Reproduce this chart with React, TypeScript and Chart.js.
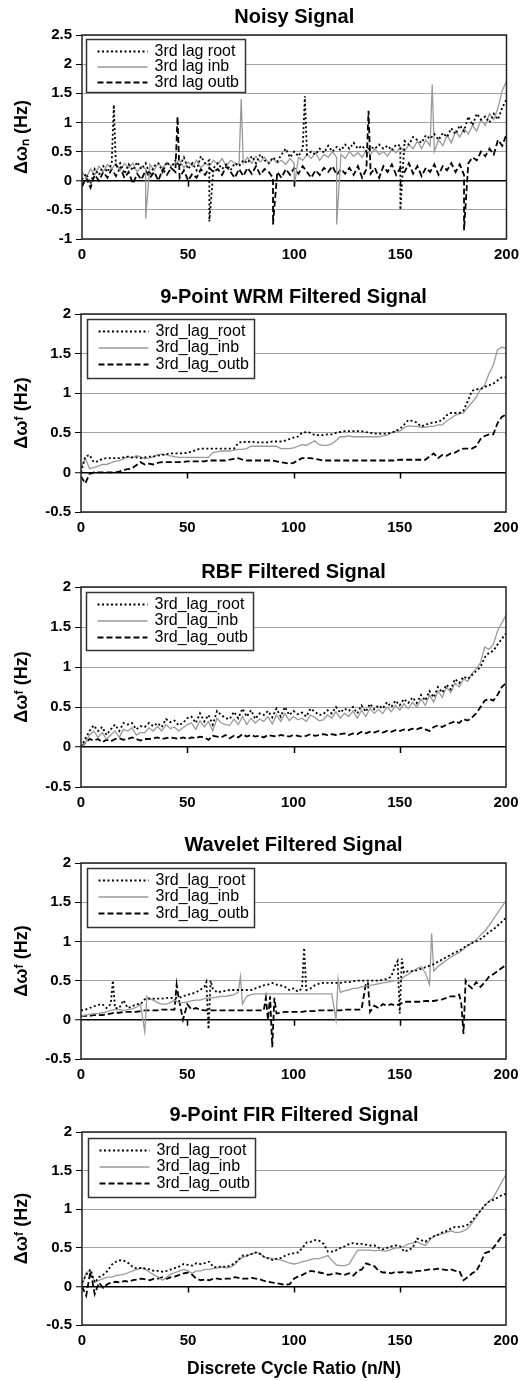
import React, { useEffect, useRef } from "react";
import { Chart, registerables } from "chart.js";

Chart.register(...registerables);
Chart.defaults.font.family = '"Liberation Sans", Arial, Helvetica, sans-serif';
Chart.defaults.color = "#000";

// ---------------- DATA ----------------
const CYCLES = [
  0, 2, 4, 6, 8, 10, 12, 14, 16, 18,
  20, 22, 24, 26, 28, 30, 32, 34, 36, 38,
  40, 42, 44, 46, 48, 50, 52, 54, 56, 58,
  60, 62, 64, 66, 68, 70, 72, 74, 76, 78,
  80, 82, 84, 86, 88, 90, 92, 94, 96, 98,
  100, 102, 104, 106, 108, 110, 112, 114, 116, 118,
  120, 122, 124, 126, 128, 130, 132, 134, 136, 138,
  140, 142, 144, 146, 148, 150, 152, 154, 156, 158,
  160, 162, 164, 166, 168, 170, 172, 174, 176, 178,
  180, 182, 184, 186, 188, 190, 192, 194, 196, 198,
  200,
];

const X_TICK_STEP = 50;
const Y_TICK_STEP = 0.5;

const NAMES_NOISY = ["3rd lag root", "3rd lag inb", "3rd lag outb"];
const NAMES_FILTERED = ["3rd_lag_root", "3rd_lag_inb", "3rd_lag_outb"];

const TITLES = [
  "Noisy Signal",
  "9-Point WRM Filtered Signal",
  "RBF Filtered Signal",
  "Wavelet Filtered Signal",
  "9-Point FIR Filtered Signal",
];
const Y_LABEL_NOISY = "Δωₙ (Hz)";
const Y_LABEL_FILTERED = "Δωᶠ (Hz)";
const X_LABEL = "Discrete Cycle Ratio (n/N)";

// Noisy signal
const noisyRoot = [
  0.02, 0.12, -0.05, 0.2, 0.1, 0.25, 0.15, 0.3, 0.22, 0.3,
  0.12, 0.28, 0.18, 0.32, 0.2, 0.3, 0.1, 0.25, 0.3, 0.15,
  0.32, 0.22, 0.35, 0.25, 0.4, 0.2, 0.3, 0.18, 0.42, 0.3,
  0.35, 0.22, 0.3, 0.2, 0.28, 0.18, 0.3, 0.25, 0.35, 0.3,
  0.42, 0.3, 0.45, 0.35, 0.3, 0.4, 0.33, 0.45, 0.55, 0.4,
  0.5, 0.42, 0.55, 0.45, 0.5, 0.45, 0.55, 0.48, 0.6, 0.5,
  0.58, 0.52, 0.62, 0.55, 0.65, 0.55, 0.6, 0.5, 0.58, 0.55,
  0.62, 0.55, 0.6, 0.52, 0.62, 0.6, 0.68, 0.62, 0.75, 0.7,
  0.65, 0.78, 0.72, 0.8, 0.7, 0.82, 0.75, 0.9, 0.8, 0.95,
  0.85, 1.1, 0.95, 1.15, 1.05, 1.1, 1.0, 1.15, 1.05, 1.25,
  1.4,
];
const noisyRootSpikes = [[15, 1.3], [60, -0.7], [105, 1.45], [150, -0.5]];
const noisyInb = [
  0.15, 0.05, 0.2, 0.1, 0.25, 0.15, 0.28, 0.2, 0.3, 0.18,
  0.3, 0.22, 0.3, 0.15, 0.25, 0.2, 0.28, 0.18, 0.3, 0.22,
  0.32, 0.25, 0.3, 0.35, 0.22, 0.32, 0.25, 0.35, 0.22, 0.3,
  0.25, 0.35, 0.28, 0.38, 0.25, 0.35, 0.3, 0.28, 0.3, 0.4,
  0.3, 0.42, 0.32, 0.4, 0.3, 0.38, 0.3, 0.35, 0.28, 0.38,
  0.3, 0.4, 0.35, 0.45, 0.38, 0.48, 0.35, 0.45, 0.4, 0.5,
  0.4, 0.45, 0.38, 0.5, 0.42, 0.48, 0.4, 0.52, 0.45, 0.55,
  0.45, 0.5, 0.42, 0.55, 0.48, 0.58, 0.5, 0.62, 0.55, 0.68,
  0.55, 0.7, 0.6, 0.5, 0.7, 0.6, 0.78, 0.65, 0.85, 0.75,
  0.9, 0.8, 0.95, 0.85, 1.05, 0.95, 1.15, 1.05, 1.25, 1.55,
  1.7,
];
const noisyInbSpikes = [[30, -0.65], [75, 1.4], [100, -0.1], [120, -0.75], [165, 1.65]];
const noisyOutb = [
  -0.1, 0.05, -0.12, 0.1, 0.0, 0.15, 0.05, 0.2, 0.08, 0.22,
  0.05, 0.15, -0.05, 0.12, 0.02, 0.18, 0.05, 0.15, 0.0, 0.2,
  0.1, 0.22, 0.15, 0.05, 0.18, 0.0, 0.12, 0.05, 0.2, 0.1,
  0.22, 0.15, 0.2, 0.1, 0.25, 0.15, 0.05, 0.2, 0.08, 0.22,
  0.12, 0.25, 0.1, 0.2, 0.15, 0.05, 0.15, 0.05, 0.2, 0.1,
  0.22, 0.12, 0.25, 0.15, 0.05, 0.18, 0.1, 0.22, 0.15, 0.25,
  0.1, 0.2, 0.12, 0.22, 0.1, 0.25, 0.05, 0.2, 0.12, 0.22,
  0.05, 0.25, 0.15, 0.28, 0.1, 0.22, 0.15, 0.3, 0.12, 0.25,
  0.08, 0.22, 0.15, 0.28, 0.1, 0.25, 0.18, 0.3, 0.15, 0.28,
  0.1, 0.3, 0.4, 0.35, 0.5, 0.42, 0.55, 0.45, 0.7, 0.6,
  0.8,
];
const noisyOutbSpikes = [[45, 1.1], [90, -0.75], [135, 1.2], [180, -0.85]];

// 9-point WRM
const wrmRoot = [
  0.0, 0.2, 0.22, 0.13, 0.14, 0.17, 0.18, 0.18, 0.18, 0.18,
  0.19, 0.2, 0.19, 0.19, 0.18, 0.19, 0.2, 0.2, 0.21, 0.22,
  0.23, 0.24, 0.24, 0.24, 0.24, 0.25, 0.26, 0.28, 0.3, 0.3,
  0.3, 0.3, 0.3, 0.3, 0.3, 0.3, 0.3, 0.37, 0.39, 0.38,
  0.39, 0.38, 0.38, 0.38, 0.38, 0.39, 0.39, 0.39, 0.4, 0.42,
  0.44, 0.45, 0.5, 0.51, 0.5, 0.47, 0.47, 0.47, 0.48, 0.48,
  0.5, 0.51, 0.52, 0.52, 0.52, 0.52, 0.52, 0.51, 0.5, 0.49,
  0.49, 0.49, 0.49, 0.5, 0.52, 0.55, 0.6, 0.66, 0.65, 0.63,
  0.58, 0.6, 0.62, 0.63, 0.64, 0.66, 0.72, 0.75, 0.75, 0.75,
  0.78, 0.9, 1.03, 1.05, 1.05, 1.08, 1.1, 1.12, 1.16, 1.2,
  1.2,
];
const wrmInb = [
  0.05, 0.18, 0.05, 0.06, 0.08, 0.1, 0.1, 0.12, 0.14, 0.15,
  0.17, 0.2, 0.18, 0.21, 0.2, 0.17, 0.18, 0.2, 0.22, 0.23,
  0.22, 0.21, 0.2, 0.19, 0.19, 0.19, 0.19, 0.19, 0.19, 0.19,
  0.19, 0.25, 0.26, 0.27, 0.27, 0.27, 0.28, 0.29, 0.29, 0.3,
  0.33, 0.33, 0.33, 0.33, 0.33, 0.33, 0.33, 0.3, 0.3, 0.3,
  0.31, 0.33, 0.35, 0.34, 0.37, 0.4, 0.35, 0.34, 0.34, 0.36,
  0.4, 0.45, 0.45, 0.46, 0.45, 0.45, 0.45, 0.45, 0.45, 0.45,
  0.45, 0.46, 0.47, 0.5, 0.52, 0.52, 0.56, 0.59, 0.58, 0.58,
  0.57, 0.57, 0.58, 0.58, 0.6, 0.6, 0.65, 0.68, 0.72, 0.74,
  0.75, 0.82, 0.88, 0.95, 1.05, 1.1, 1.25, 1.35, 1.55, 1.58,
  1.57,
];
const wrmOutb = [
  -0.05, -0.14, -0.02, 0.0, 0.0, 0.0, 0.0, 0.0, 0.0, 0.01,
  0.03, 0.04, 0.05, 0.09, 0.13, 0.1, 0.11, 0.1, 0.12, 0.13,
  0.13, 0.13, 0.13, 0.13, 0.13, 0.14, 0.14, 0.14, 0.14, 0.14,
  0.15, 0.15, 0.15, 0.15, 0.15, 0.16, 0.17, 0.18, 0.16, 0.15,
  0.15, 0.15, 0.15, 0.15, 0.15, 0.15, 0.14, 0.13, 0.12, 0.11,
  0.12, 0.15, 0.18, 0.18, 0.18, 0.17, 0.16, 0.15, 0.15, 0.15,
  0.15, 0.15, 0.15, 0.15, 0.15, 0.15, 0.15, 0.15, 0.15, 0.15,
  0.15, 0.15, 0.15, 0.15, 0.15, 0.16, 0.16, 0.16, 0.16, 0.16,
  0.16, 0.16, 0.2, 0.24, 0.18, 0.22, 0.21, 0.24, 0.25, 0.28,
  0.3, 0.3, 0.3, 0.33, 0.42, 0.46, 0.48, 0.48, 0.62, 0.7,
  0.73,
];

// RBF
const rbfRoot = [
  0.0, 0.1, 0.2, 0.27, 0.2, 0.25, 0.15, 0.22, 0.28, 0.2,
  0.3, 0.28, 0.3, 0.22, 0.26, 0.25, 0.3, 0.26, 0.3, 0.25,
  0.35, 0.31, 0.33, 0.27, 0.3, 0.36, 0.38, 0.3, 0.42, 0.32,
  0.4, 0.28, 0.45, 0.4, 0.36, 0.35, 0.44, 0.36, 0.48, 0.38,
  0.46, 0.35, 0.42, 0.4, 0.45, 0.37, 0.48, 0.38, 0.5, 0.4,
  0.45, 0.41, 0.43, 0.38, 0.48, 0.44, 0.4, 0.41, 0.46, 0.42,
  0.5, 0.43, 0.48, 0.45, 0.5, 0.42, 0.52, 0.44, 0.54, 0.47,
  0.52, 0.48, 0.56, 0.5, 0.58, 0.52, 0.6, 0.55, 0.62, 0.55,
  0.65, 0.58, 0.7, 0.62, 0.75, 0.68, 0.78, 0.72, 0.85, 0.8,
  0.88, 0.85, 0.9, 0.95, 1.0, 1.12, 1.18, 1.2, 1.28, 1.35,
  1.42,
];
const rbfInb = [
  0.0, 0.05, 0.15, 0.2, 0.12, 0.18, 0.1, 0.15, 0.2, 0.12,
  0.22, 0.2, 0.24, 0.15, 0.18, 0.18, 0.24, 0.2, 0.26, 0.2,
  0.28, 0.23, 0.25, 0.2, 0.24, 0.28, 0.3, 0.22, 0.33, 0.25,
  0.32, 0.2, 0.36, 0.3, 0.28, 0.27, 0.35, 0.28, 0.38, 0.28,
  0.36, 0.3, 0.35, 0.32, 0.38, 0.29, 0.4, 0.32, 0.42, 0.33,
  0.38, 0.34, 0.36, 0.32, 0.4, 0.37, 0.33, 0.34, 0.4, 0.36,
  0.44, 0.36, 0.42, 0.38, 0.45, 0.36, 0.46, 0.38, 0.48, 0.42,
  0.47, 0.42, 0.5, 0.44, 0.52, 0.46, 0.54, 0.48, 0.56, 0.5,
  0.6, 0.52, 0.65, 0.56, 0.7, 0.62, 0.75, 0.68, 0.8, 0.75,
  0.85, 0.82, 0.92, 0.98, 1.05, 1.25, 1.22, 1.28, 1.45, 1.55,
  1.65,
];
const rbfOutb = [
  0.0, 0.05, 0.1, 0.08, 0.1, 0.06, 0.09, 0.07, 0.1, 0.11,
  0.09, 0.1, 0.12, 0.1, 0.08, 0.1, 0.1, 0.11, 0.12, 0.1,
  0.11, 0.12, 0.11, 0.1, 0.12, 0.1, 0.12, 0.11, 0.13, 0.12,
  0.09, 0.14, 0.13, 0.12, 0.15, 0.11, 0.14, 0.12, 0.16, 0.13,
  0.15, 0.13, 0.14, 0.12, 0.15, 0.14, 0.13, 0.15, 0.14, 0.13,
  0.15, 0.14, 0.13, 0.14, 0.16, 0.14, 0.15, 0.16, 0.15, 0.16,
  0.15, 0.16, 0.17, 0.15, 0.17, 0.16, 0.19, 0.17, 0.19, 0.18,
  0.2, 0.18, 0.2, 0.19, 0.21, 0.2, 0.22, 0.21, 0.23, 0.22,
  0.24, 0.22, 0.2, 0.25, 0.27, 0.25, 0.28, 0.3, 0.32, 0.3,
  0.35, 0.33, 0.37, 0.42, 0.5, 0.58, 0.6, 0.58, 0.65, 0.75,
  0.8,
];

// Wavelet
const wavRoot = [
  0.12, 0.13, 0.15, 0.17, 0.19, 0.2, 0.15, 0.2, 0.15, 0.15,
  0.25, 0.15, 0.17, 0.2, 0.2, 0.26, 0.27, 0.27, 0.27, 0.27,
  0.28, 0.28, 0.28, 0.28, 0.3, 0.32, 0.33, 0.35, 0.38, 0.42,
  -0.12, 0.4, 0.35, 0.36, 0.37, 0.38, 0.38, 0.38, 0.38, 0.38,
  0.38, 0.4, 0.42, 0.44, 0.45, 0.47, 0.45, 0.44, 0.42, 0.38,
  0.4, 0.36, 0.4, 0.38, 0.4, 0.44, 0.46, 0.47, 0.47, 0.47,
  0.47, 0.47, 0.48, 0.48, 0.49, 0.5, 0.5, 0.5, 0.5, 0.5,
  0.5, 0.51, 0.52, 0.55, 0.7, 0.08, 0.6, 0.62, 0.62, 0.63,
  0.65, 0.67, 0.69, 0.71, 0.74, 0.77, 0.8, 0.83, 0.86, 0.88,
  0.92, 0.95, 0.98, 1.0, 1.03, 1.07, 1.12, 1.15, 1.2, 1.25,
  1.3,
];
const wavRootSpikes = [[15, 0.5], [59, 0.48], [61, 0.5], [105, 0.92], [149, 0.75], [151, 0.78]];
const wavInb = [
  0.05, 0.06, 0.07, 0.08, 0.08, 0.09, 0.1, 0.12, 0.13, 0.13,
  0.12, 0.13, 0.14, 0.16, 0.2, -0.15, 0.27, 0.25, 0.22, 0.2,
  0.2, 0.22, 0.25, 0.22, 0.22, 0.23, 0.24, 0.25, 0.25, 0.27,
  0.28, 0.28, 0.29, 0.3, 0.3, 0.31, 0.32, 0.35, 0.2, 0.3,
  0.32, 0.33, 0.33, 0.33, 0.33, 0.33, 0.33, 0.33, 0.33, 0.33,
  0.33, 0.33, 0.33, 0.33, 0.33, 0.33, 0.33, 0.33, 0.33, 0.33,
  0.0, 0.35, 0.37, 0.38, 0.4, 0.4, 0.42, 0.43, 0.44, 0.45,
  0.46, 0.47, 0.48, 0.49, 0.5, 0.5, 0.55, 0.58, 0.62, 0.65,
  0.68, 0.6, 0.45, 0.62, 0.68, 0.72, 0.76, 0.8, 0.83, 0.86,
  0.9, 0.95, 0.98, 1.02, 1.08, 1.13, 1.2, 1.28, 1.36, 1.44,
  1.52,
];
const wavInbSpikes = [[31, 0.3], [75, 0.55], [121, 0.52], [165, 1.1]];
const wavOutb = [
  0.05, 0.05, 0.05, 0.06, 0.06, 0.06, 0.07, 0.08, 0.09, 0.09,
  0.1, 0.1, 0.1, 0.1, 0.11, 0.12, 0.12, 0.12, 0.12, 0.13,
  0.13, 0.13, 0.13, 0.27, 0.0, 0.2, 0.13, 0.15, 0.13, 0.12,
  0.12, 0.12, 0.12, 0.12, 0.12, 0.12, 0.12, 0.12, 0.12, 0.12,
  0.12, 0.12, 0.12, 0.12, 0.0, -0.35, 0.08, 0.09, 0.1, 0.1,
  0.1, 0.1, 0.1, 0.11, 0.11, 0.11, 0.12, 0.12, 0.12, 0.12,
  0.12, 0.12, 0.13, 0.13, 0.13, 0.13, 0.13, 0.45, 0.1, 0.18,
  0.15, 0.2, 0.18, 0.2, 0.18, 0.2, 0.23, 0.23, 0.23, 0.23,
  0.23, 0.24, 0.24, 0.24, 0.25, 0.26, 0.28, 0.3, 0.3, 0.32,
  -0.18, 0.45, 0.4, 0.48, 0.42, 0.48, 0.55, 0.58, 0.62, 0.66,
  0.7,
];
const wavOutbSpikes = [[45, 0.45], [87, 0.28], [89, 0.3], [91, 0.28], [135, 0.48], [179, 0.2], [181, 0.5]];

// 9-point FIR
const firRoot = [
  0.05, 0.15, 0.22, 0.05, 0.12, 0.15, 0.2, 0.28, 0.32, 0.34,
  0.33, 0.3, 0.25, 0.23, 0.24, 0.23, 0.22, 0.2, 0.2, 0.19,
  0.2, 0.22, 0.24, 0.26, 0.29, 0.28, 0.27, 0.3, 0.29, 0.3,
  0.32, 0.25, 0.25, 0.26, 0.25, 0.27, 0.3, 0.35, 0.4, 0.4,
  0.42, 0.44, 0.42, 0.38, 0.36, 0.34, 0.36, 0.37, 0.4, 0.42,
  0.43, 0.44, 0.5, 0.57, 0.58, 0.6, 0.59, 0.55, 0.45, 0.45,
  0.47, 0.5, 0.52, 0.55, 0.56, 0.55, 0.55, 0.54, 0.53, 0.53,
  0.5, 0.48, 0.5, 0.52, 0.53, 0.52, 0.45, 0.47, 0.5, 0.62,
  0.6, 0.58, 0.62, 0.65, 0.67, 0.7, 0.72, 0.75, 0.77, 0.77,
  0.78, 0.8, 0.85, 0.92, 0.98, 1.05, 1.1, 1.12, 1.15, 1.18,
  1.2,
];
const firInb = [
  0.0, 0.18, 0.2, 0.05, 0.08, 0.1, 0.12, 0.12, 0.14, 0.15,
  0.16, 0.18, 0.2, 0.22, 0.24, 0.22, 0.18, 0.15, 0.12, 0.08,
  0.12, 0.16, 0.18, 0.2, 0.22, 0.2, 0.17, 0.2, 0.2, 0.22,
  0.22, 0.23, 0.24, 0.25, 0.24, 0.25, 0.28, 0.35, 0.38, 0.4,
  0.42, 0.44, 0.43, 0.38, 0.37, 0.36, 0.35, 0.34, 0.32, 0.3,
  0.29, 0.3, 0.32, 0.33, 0.35, 0.36, 0.36, 0.38, 0.4, 0.33,
  0.28, 0.27, 0.27, 0.29, 0.38, 0.47, 0.47, 0.47, 0.47, 0.46,
  0.47, 0.46, 0.46, 0.48, 0.5, 0.5, 0.52, 0.55, 0.56, 0.58,
  0.55, 0.53, 0.6, 0.65, 0.67, 0.68, 0.7, 0.72, 0.7, 0.7,
  0.72, 0.75, 0.82, 0.9, 0.98, 1.05, 1.1, 1.15, 1.25, 1.35,
  1.45,
];
const firOutb = [
  0.0, -0.12, 0.2, -0.1, 0.05, -0.02, 0.03, 0.05, 0.06, 0.05,
  0.07, 0.06, 0.08, 0.09, 0.1, 0.09, 0.08, 0.1, 0.1, 0.12,
  0.1, 0.12, 0.13, 0.15, 0.17, 0.18, 0.15, 0.1, 0.08, 0.09,
  0.08, 0.1, 0.1, 0.09, 0.1, 0.1, 0.12, 0.11, 0.1, 0.1,
  0.11, 0.1, 0.09, 0.07, 0.06, 0.05, 0.04, 0.03, 0.02, 0.03,
  0.1, 0.13, 0.15, 0.18, 0.2, 0.19, 0.18, 0.17, 0.15, 0.16,
  0.17, 0.16, 0.15, 0.17, 0.14, 0.2, 0.22, 0.3, 0.28, 0.26,
  0.2, 0.18, 0.18, 0.17, 0.19, 0.18, 0.19, 0.18, 0.18, 0.2,
  0.2, 0.21, 0.22, 0.22, 0.23, 0.22, 0.21, 0.22, 0.2, 0.2,
  0.08, 0.12, 0.17, 0.2, 0.3, 0.43, 0.45, 0.5, 0.57, 0.65,
  0.68,
];

const NO_SPIKES: number[][] = [];

// ---------------- STYLE / LAYOUT ----------------
const STYLES = [
  { color: "#000000", width: 1.8, dash: [2, 2.5] },
  { color: "#9a9a9a", width: 1.3, dash: [] as number[] },
  { color: "#000000", width: 1.8, dash: [6, 3] },
];

type PanelSpec = {
  title: string;
  yLabel: string;
  names: string[];
  series: { values: number[]; spikes: number[][] }[];
  yMin: number;
  yMax: number;
  top: number;
  h: number;
  plotTop: number;
  plotBottom: number;
  plotLeft: number;
  plotRight: number;
  titleY: number;
  xTitle?: string;
  legend: { dx: number; dy: number; h: number; first: number; gap: number };
};

const PANELS: PanelSpec[] = [
  {
    title: TITLES[0], yLabel: Y_LABEL_NOISY, names: NAMES_NOISY,
    series: [
      { values: noisyRoot, spikes: noisyRootSpikes },
      { values: noisyInb, spikes: noisyInbSpikes },
      { values: noisyOutb, spikes: noisyOutbSpikes },
    ],
    yMin: -1, yMax: 2.5,
    top: 0, h: 270, plotTop: 35, plotBottom: 239, plotLeft: 82, plotRight: 508, titleY: 17,
    legend: { dx: 4, dy: 4, h: 53, first: 12, gap: 15.5 },
  },
  {
    title: TITLES[1], yLabel: Y_LABEL_FILTERED, names: NAMES_FILTERED,
    series: [
      { values: wrmRoot, spikes: NO_SPIKES },
      { values: wrmInb, spikes: NO_SPIKES },
      { values: wrmOutb, spikes: NO_SPIKES },
    ],
    yMin: -0.5, yMax: 2,
    top: 270, h: 275, plotTop: 314, plotBottom: 512, plotLeft: 81, plotRight: 506, titleY: 297,
    legend: { dx: 6, dy: 5, h: 59, first: 12, gap: 16.5 },
  },
  {
    title: TITLES[2], yLabel: Y_LABEL_FILTERED, names: NAMES_FILTERED,
    series: [
      { values: rbfRoot, spikes: NO_SPIKES },
      { values: rbfInb, spikes: NO_SPIKES },
      { values: rbfOutb, spikes: NO_SPIKES },
    ],
    yMin: -0.5, yMax: 2,
    top: 545, h: 275, plotTop: 587, plotBottom: 787, plotLeft: 81, plotRight: 506, titleY: 572,
    legend: { dx: 5, dy: 5, h: 58, first: 12, gap: 16.5 },
  },
  {
    title: TITLES[3], yLabel: Y_LABEL_FILTERED, names: NAMES_FILTERED,
    series: [
      { values: wavRoot, spikes: wavRootSpikes },
      { values: wavInb, spikes: wavInbSpikes },
      { values: wavOutb, spikes: wavOutbSpikes },
    ],
    yMin: -0.5, yMax: 2,
    top: 820, h: 275, plotTop: 863, plotBottom: 1059, plotLeft: 81, plotRight: 506, titleY: 845,
    legend: { dx: 6, dy: 5, h: 59, first: 12, gap: 16.5 },
  },
  {
    title: TITLES[4], yLabel: Y_LABEL_FILTERED, names: NAMES_FILTERED,
    series: [
      { values: firRoot, spikes: NO_SPIKES },
      { values: firInb, spikes: NO_SPIKES },
      { values: firOutb, spikes: NO_SPIKES },
    ],
    yMin: -0.5, yMax: 2,
    top: 1095, h: 286, plotTop: 1132, plotBottom: 1325, plotLeft: 82, plotRight: 506, titleY: 1115,
    xTitle: X_LABEL,
    legend: { dx: 6, dy: 6, h: 59, first: 12, gap: 16.5 },
  },
];

// merge regular samples with the extra spike samples, ordered by x
function mergePoints(values: number[], spikes: number[][]) {
  const pts = CYCLES.map((x, i) => ({ x, y: values[i] }));
  spikes.forEach(([x, y]) => pts.push({ x, y }));
  pts.sort((a, b) => a.x - b.x);
  return pts;
}

// ---------------- PLUGINS ----------------
const framePlugin = {
  id: "frame",
  afterDatasetsDraw(chart: any) {
    const { ctx, chartArea, scales } = chart;
    const { left, right, top, bottom } = chartArea;
    const xs = scales.x;
    const ys = scales.y;
    const zy = ys.getPixelForValue(0);
    ctx.save();
    ctx.setLineDash([]);
    ctx.strokeStyle = "#000";
    ctx.lineWidth = 1.5;
    ctx.beginPath();
    xs.ticks.forEach((t: any) => {
      if (t.value > xs.min && t.value < xs.max) {
        const px = Math.round(xs.getPixelForValue(t.value)) + 0.5;
        ctx.moveTo(px, zy);
        ctx.lineTo(px, zy + 6);
      }
    });
    ctx.stroke();
    ctx.strokeStyle = "#222";
    ctx.lineWidth = 1.5;
    ctx.strokeRect(left, top, right - left, bottom - top);
    ctx.restore();
  },
};

const legendPlugin = {
  id: "boxLegend",
  afterDraw(chart: any, _args: any, opts: any) {
    const { ctx, chartArea } = chart;
    ctx.save();
    ctx.font = '16px "Liberation Sans", Arial, Helvetica, sans-serif';
    const items = chart.data.datasets;
    const textW = Math.max(...items.map((d: any) => ctx.measureText(d.label).width));
    const x0 = Math.round(chartArea.left + opts.dx) + 0.5;
    const y0 = Math.round(chartArea.top + opts.dy) + 0.5;
    const w = Math.round(68 + textW + 6);
    ctx.fillStyle = "#fff";
    ctx.fillRect(x0, y0, w, opts.h);
    ctx.setLineDash([]);
    ctx.strokeStyle = "#333";
    ctx.lineWidth = 1.5;
    ctx.strokeRect(x0, y0, w, opts.h);
    items.forEach((d: any, i: number) => {
      const y = y0 + opts.first + i * opts.gap;
      ctx.strokeStyle = d.borderColor;
      ctx.lineWidth = d.borderWidth;
      ctx.setLineDash(d.borderDash || []);
      ctx.beginPath();
      ctx.moveTo(x0 + 11, y);
      ctx.lineTo(x0 + 61, y);
      ctx.stroke();
      ctx.setLineDash([]);
      ctx.fillStyle = "#000";
      ctx.textBaseline = "middle";
      ctx.textAlign = "left";
      ctx.fillText(d.label, x0 + 68, y);
    });
    ctx.restore();
  },
};

// ---------------- CHART ----------------
function buildConfig(p: PanelSpec): any {
  const titlePadTop = p.titleY - p.top - 12;
  const titlePadBottom = p.plotTop - p.titleY - 12;
  const xAxisH = p.top + p.h - p.plotBottom;
  return {
    type: "line",
    data: {
      datasets: p.series.map((s, i) => ({
        label: p.names[i],
        data: mergePoints(s.values, s.spikes),
        borderColor: STYLES[i].color,
        borderWidth: STYLES[i].width,
        borderDash: STYLES[i].dash,
        pointRadius: 0,
        pointHoverRadius: 0,
        tension: 0,
        fill: false,
      })),
    },
    options: {
      responsive: false,
      animation: false,
      devicePixelRatio: 1,
      events: [],
      layout: { padding: { left: 0, right: 526 - p.plotRight, top: 0, bottom: 0 } },
      plugins: {
        legend: { display: false },
        tooltip: { enabled: false },
        title: {
          display: true,
          text: p.title,
          fullSize: false,
          color: "#000",
          font: { size: 20, weight: "bold" },
          padding: { top: titlePadTop, bottom: titlePadBottom },
        },
        boxLegend: p.legend,
      },
      scales: {
        x: {
          type: "linear",
          min: 0,
          max: 200,
          ticks: {
            stepSize: X_TICK_STEP,
            color: "#000",
            font: { size: 15, weight: "bold" },
            padding: 7,
            maxRotation: 0,
            autoSkip: false,
          },
          grid: { display: false, drawTicks: false },
          border: { display: false },
          title: p.xTitle
            ? {
                display: true,
                text: p.xTitle,
                color: "#000",
                font: { size: 17.5, weight: "bold" },
                padding: { top: 0, bottom: 1.5 },
              }
            : { display: false },
          afterFit: (s: any) => {
            s.height = xAxisH;
          },
        },
        y: {
          type: "linear",
          min: p.yMin,
          max: p.yMax,
          ticks: {
            stepSize: Y_TICK_STEP,
            color: "#000",
            font: { size: 15, weight: "bold" },
            padding: 4,
            callback: (v: any) => String(Number(v)),
          },
          grid: {
            color: (c: any) => (c.tick && c.tick.value === 0 ? "#000" : "#a3a3a3"),
            lineWidth: (c: any) => (c.tick && c.tick.value === 0 ? 1.5 : 1),
            tickColor: "#000",
            tickWidth: 1,
            tickLength: 6,
            drawTicks: true,
          },
          border: { display: false },
          title: {
            display: true,
            text: p.yLabel,
            color: "#000",
            font: { size: 18, weight: "bold" },
            padding: { top: 11, bottom: 0 },
          },
          afterFit: (s: any) => {
            s.width = p.plotLeft;
          },
        },
      },
    },
    plugins: [framePlugin, legendPlugin],
  };
}

function Panel({ spec }: { spec: PanelSpec }) {
  const ref = useRef<HTMLCanvasElement>(null);
  useEffect(() => {
    if (!ref.current) return;
    const chart = new Chart(ref.current, buildConfig(spec));
    return () => chart.destroy();
  }, [spec]);
  return (
    <canvas
      ref={ref}
      width={526}
      height={spec.h}
      style={{ position: "absolute", left: 0, top: spec.top, width: 526, height: spec.h, display: "block" }}
    />
  );
}

export default function App() {
  return (
    <div style={{ position: "absolute", left: 0, top: 0, width: 526, height: 1381, background: "#fff" }}>
      {PANELS.map((p, i) => (
        <Panel key={i} spec={p} />
      ))}
    </div>
  );
}
